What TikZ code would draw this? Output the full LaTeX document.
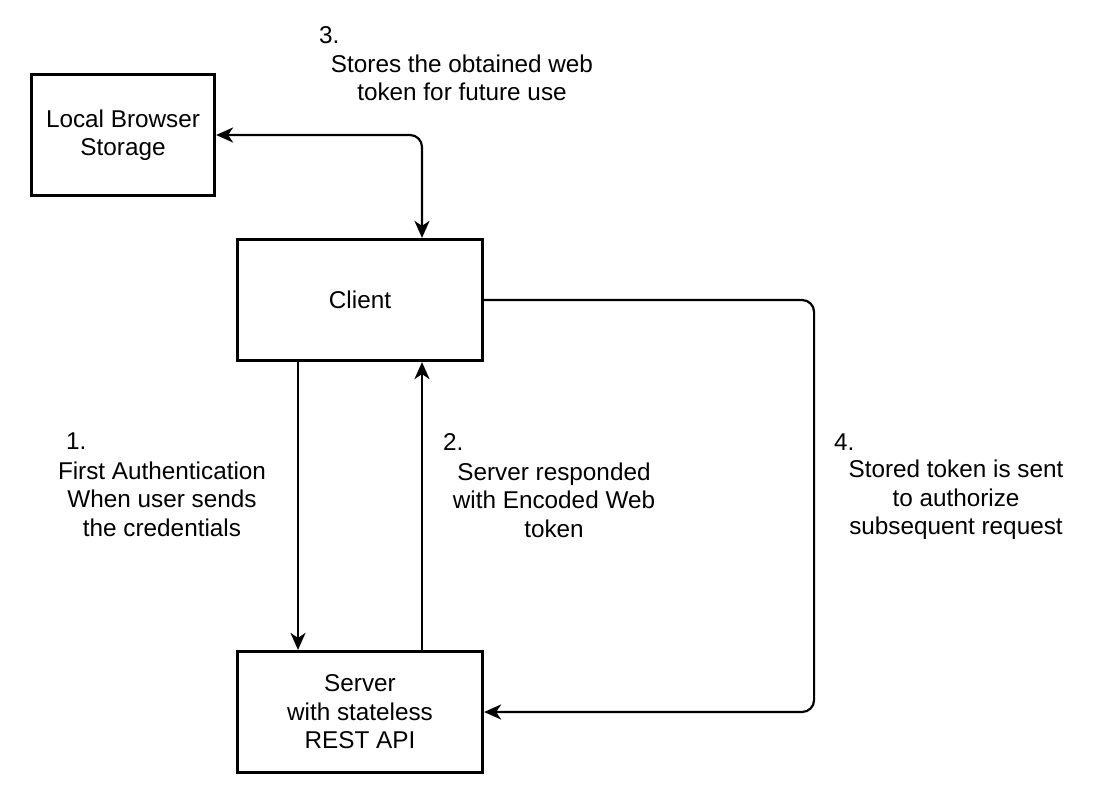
\documentclass[tikz,border=0pt]{standalone}
\usepackage{fontspec}
\setmainfont{Liberation Sans}
\usetikzlibrary{arrows.meta}
\begin{document}
\begin{tikzpicture}[x=1pt,y=-1pt,
  box/.style={draw, line width=3.2pt, inner sep=0pt, align=center,
    font=\fontsize{24.3}{28.5}\selectfont},
  conn/.style={line width=2.2pt, rounded corners=12pt, -{Stealth[length=17pt,width=15pt,inset=5pt]}},
  lbl/.style={font=\fontsize{24.3}{28.5}\selectfont, align=center, inner sep=0pt},
  num/.style={font=\fontsize{24.3}{28.5}\selectfont, anchor=west, inner sep=0pt}]
\useasboundingbox (0,0) rectangle (1103,791);
\fill[white] (0,0) rectangle (1103,791);

\node[box, minimum width=183pt, minimum height=121pt] (lbs) at (123,135) {Local Browser\\Storage};
\node[box, minimum width=245pt, minimum height=121pt] (client) at (360,300) {Client};
\node[box, minimum width=245pt, minimum height=121pt] (server) at (360,712) {Server\\with stateless\\REST API};

% 3
\draw[conn, {Stealth[length=17pt,width=15pt,inset=5pt]}-{Stealth[length=17pt,width=15pt,inset=5pt]}]
  (lbs.east) -| ([xshift=62pt]client.north);
\node[num] (n3) at (319,35) {3.};
\node[lbl] (t3) at (462,78) {Stores the obtained web\\token for future use};

% 1
\draw[conn] ([xshift=-62pt]client.south) -- ([xshift=-62pt]server.north);
\node[num] (n1) at (66,441) {1.};
\node[lbl] (t1) at (162,499) {First Authentication\\When user sends\\the credentials};

% 2
\draw[conn] ([xshift=62pt]server.north) -- ([xshift=62pt]client.south);
\node[num] (n2) at (443,442) {2.};
\node[lbl] (t2) at (554,500) {Server responded\\with Encoded Web\\token};

% 4
\draw[conn] (client.east) -- ++(330,0) |- (server.east);
\node[num] (n4) at (834,442) {4.};
\node[lbl] (t4) at (956,500) {Stored token is sent\\to authorize\\subsequent request};
\end{tikzpicture}
\end{document}
